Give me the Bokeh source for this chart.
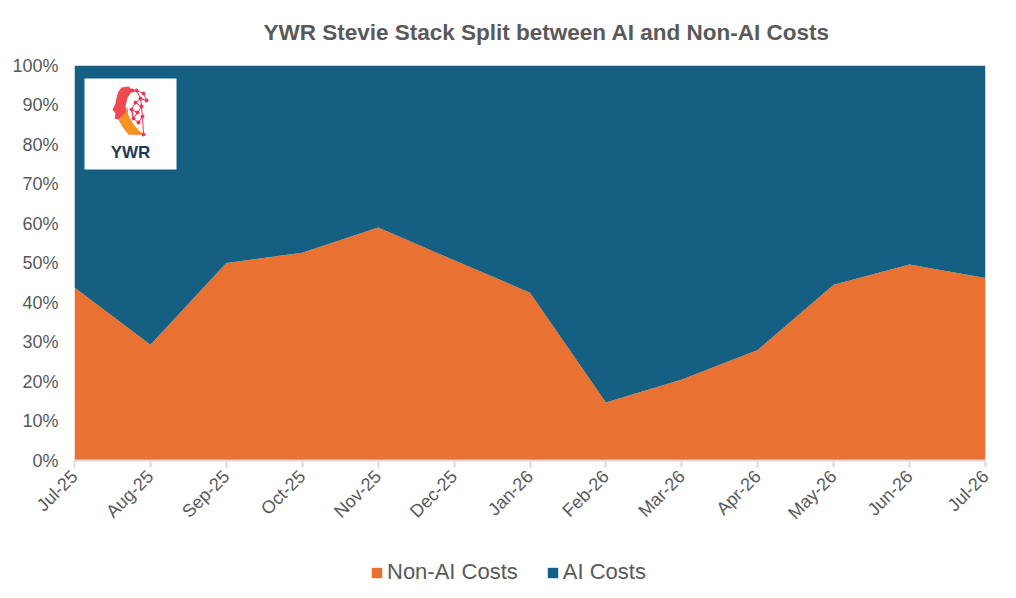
from bokeh.plotting import figure
from bokeh.layouts import column
from bokeh.models import (ColumnDataSource, Legend, LegendItem, NumeralTickFormatter,
                          FixedTicker, Label)
from bokeh.embed import file_html
from bokeh.resources import INLINE

months = ["Jul-25", "Aug-25", "Sep-25", "Oct-25", "Nov-25", "Dec-25", "Jan-26",
          "Feb-26", "Mar-26", "Apr-26", "May-26", "Jun-26", "Jul-26"]
non_ai = [0.438, 0.293, 0.500, 0.526, 0.590, 0.507, 0.425,
          0.147, 0.205, 0.280, 0.445, 0.496, 0.462]
ai = [round(1 - v, 3) for v in non_ai]
y_ticks = [0, 0.1, 0.2, 0.3, 0.4, 0.5, 0.6, 0.7, 0.8, 0.9, 1.0]
series = ["Non-AI Costs", "AI Costs"]

ORANGE = "#E97132"
BLUE = "#156082"
GREY = "#595959"
FONT = "Liberation Sans"

x = list(range(len(months)))
src = ColumnDataSource(dict(x=x, non_ai=non_ai, ai=ai))

p = figure(frame_width=911, frame_height=395, x_range=(0, len(months) - 1), y_range=(0, 1),
           output_backend="svg", toolbar_location=None,
           title="YWR Stevie Stack Split between AI and Non-AI Costs",
           min_border_left=74, min_border_right=15, min_border_top=63,
           min_border_bottom=57)

rs = p.varea_stack(["non_ai", "ai"], x="x", color=[ORANGE, BLUE], source=src)

# title
p.title.text_font = FONT
p.title.text_font_size = "22.5px"
p.title.text_font_style = "bold"
p.title.text_color = GREY
p.title.align = "left"
p.title.offset = 189
p.title.vertical_align = "top"
p.title.standoff = 38

# axes
p.xgrid.visible = False
p.ygrid.visible = False
p.outline_line_color = None

p.xaxis.ticker = FixedTicker(ticks=x)
p.xaxis.major_label_overrides = {i: m for i, m in enumerate(months)}
p.xaxis.major_label_orientation = 0.785398
p.xaxis.axis_line_color = "#d9d9d9"
p.xaxis.axis_line_width = 2
p.xaxis.major_tick_line_color = "#d9d9d9"
p.xaxis.major_tick_line_width = 2
p.xaxis.major_tick_out = 7
p.xaxis.major_tick_in = 0
p.xaxis.minor_tick_line_color = None
p.xaxis.major_label_text_font = FONT
p.xaxis.major_label_text_font_size = "18px"
p.xaxis.major_label_text_color = GREY
p.xaxis.major_label_standoff = 6

p.yaxis.ticker = FixedTicker(ticks=y_ticks)
p.yaxis.formatter = NumeralTickFormatter(format="0%")
p.yaxis.axis_line_color = None
p.yaxis.major_tick_line_color = None
p.yaxis.minor_tick_line_color = None
p.yaxis.major_label_text_font = FONT
p.yaxis.major_label_text_font_size = "18px"
p.yaxis.major_label_text_color = GREY
p.yaxis.major_label_standoff = 10

# logo (decoration) – page pixel helper
def dx(px):
    return (px - 74) / (911 / 12)

def dy(py):
    return (458 - py) / 395

p.quad(left=[dx(84)], right=[dx(176)], top=[dy(76)], bottom=[dy(167)],
       fill_color="white", line_color=None)
face_x = [121, 128, 132, 127, 125, 128, 133, 138, 143, 128, 122, 118, 114, 115, 112, 115, 116, 118]
face_y = [85, 84, 88, 95, 104, 114, 122, 128, 132, 132, 124, 117, 116, 111, 107, 101, 95, 89]
p.patch([dx(v) for v in face_x], [dy(v) for v in face_y], color="#ee4a4f", line_color=None)
p.patch([dx(v) for v in [118, 125, 127, 128, 133, 138, 143, 128, 122, 118]],
        [dy(v) for v in [117, 110, 104, 114, 122, 128, 132, 132, 124, 117]],
        color="#f7931e", line_color=None)
mx = [132, 136, 143, 146, 140, 135, 141, 137, 131, 133, 138, 142, 143]
my = [88, 88, 91, 98, 96, 100, 104, 110, 107, 116, 120, 114, 132]
p.line([dx(v) for v in mx], [dy(v) for v in my], color="#e8325a", line_width=1)
p.line([dx(v) for v in [136, 140, 141, 142]], [dy(v) for v in [88, 96, 104, 114]],
       color="#e8325a", line_width=1)
p.line([dx(v) for v in [135, 131, 133, 137]], [dy(v) for v in [100, 107, 116, 110]],
       color="#e8325a", line_width=1)
p.scatter([dx(v) for v in mx], [dy(v) for v in my], size=3, color="#e8325a")
p.add_layout(Label(x=dx(130), y=dy(150), text="YWR", text_align="center",
                   text_baseline="middle", text_font=FONT, text_font_style="bold",
                   text_font_size="17px", text_color="#1f3a57"))

# legend strip below the chart (same series, drawn outside its visible range)
lg = figure(width=1000, height=56, x_range=(-10, -9), y_range=(0, 1),
            output_backend="svg", toolbar_location=None,
            min_border=0)
lg.axis.visible = False
lg.grid.visible = False
lg.outline_line_color = None
lrs = lg.varea_stack(["non_ai", "ai"], x="x", color=[ORANGE, BLUE], source=src)
legend = Legend(items=[LegendItem(label=series[0], renderers=[lrs[0]]),
                       LegendItem(label=series[1], renderers=[lrs[1]])],
                orientation="horizontal", location=(296, 4))
legend.label_text_font = FONT
legend.label_text_font_size = "22px"
legend.label_text_color = GREY
legend.glyph_width = 13
legend.glyph_height = 13
legend.spacing = 28
legend.label_standoff = 4
legend.border_line_color = None
legend.background_fill_alpha = 0
lg.add_layout(legend)

layout = column(p, lg, spacing=0)
open("out.html", "w").write(file_html(layout, INLINE))
